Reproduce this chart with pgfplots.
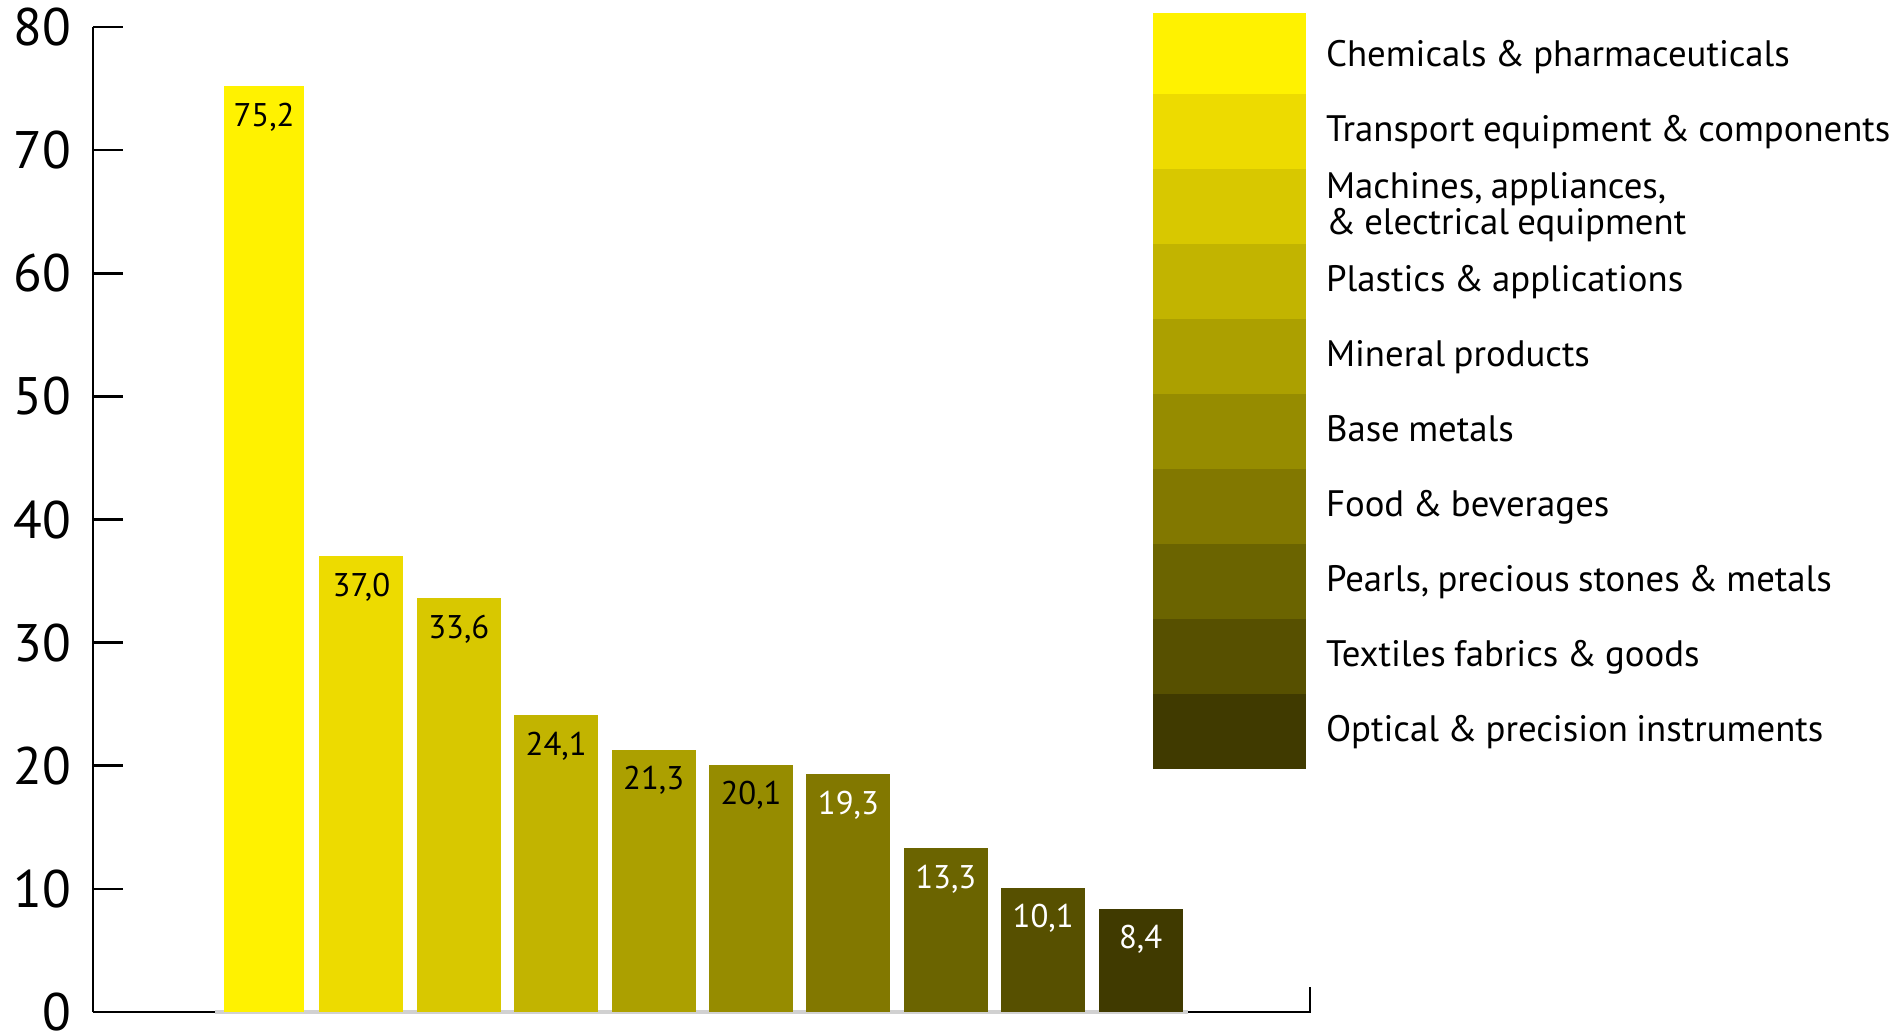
\documentclass[border=0pt]{standalone}
\usepackage{pgfplots}
\pgfplotsset{compat=1.18}
\usepackage{fontspec}
\setmainfont{PT Sans}[WordSpace=0.85]
\definecolor{c1}{HTML}{FFF200}
\definecolor{c2}{HTML}{EDDB00}
\definecolor{c3}{HTML}{D8C800}
\definecolor{c4}{HTML}{C2B400}
\definecolor{c5}{HTML}{ACA000}
\definecolor{c6}{HTML}{968C00}
\definecolor{c7}{HTML}{827800}
\definecolor{c8}{HTML}{6B6400}
\definecolor{c9}{HTML}{575000}
\definecolor{c10}{HTML}{403A00}
\pgfplotsset{
  tallimg/.style={legend image code/.code={\fill[##1] (0pt,-9.375pt) rectangle (38.25pt,10.875pt);}},
  normimg/.style={legend image code/.code={\fill[##1] (0pt,-9.375pt) rectangle (38.25pt,9.375pt);}},
}
\begin{document}
\begin{tikzpicture}
\useasboundingbox (0,0) rectangle (474.25pt,258pt);
\begin{axis}[
  at={(23.25pt,5pt)}, anchor=south west,
  scale only axis, width=304.25pt, height=246.25pt,
  xmin=-1.756, xmax=10.739, ymin=0, ymax=80,
  axis y line*=left, axis x line=none,
  ytick={0,10,...,80}, tick align=inside, major tick length=7.5pt,
  axis line style={line width=0.65pt, black},
  every tick/.style={line width=0.65pt, black},
  yticklabel style={font=\fontsize{13.2}{15}\selectfont, inner sep=0pt, xshift=-5.25pt},
  /pgf/number format/assume math mode=true,
  ybar, bar shift=0pt, bar width=0.862,
  nodes near coords={\pgfmathprintnumber[fixed,fixed zerofill,precision=1,use comma]{\pgfplotspointmeta}},
  nodes near coords align={below},
  every node near coord/.append style={font=\fontsize{8.2}{9}\selectfont, inner sep=0pt, yshift=-4pt},
  clip=false,
  legend cell align=left,
  legend style={at={(0.8710,1.01421)}, anchor=north west, draw=none, fill=none,
    inner sep=0pt, outer sep=0pt, row sep=0pt,
    nodes={inner sep=0pt, outer sep=0pt},
    cells={align=left},
    font=\fontsize{9.2}{9}\selectfont,
    /tikz/every odd column/.append style={column sep=5pt}},
  normimg,
]
\draw[black!18, line width=1pt] (axis cs:-0.503,0) -- (axis cs:9.487,0);
\addplot[fill=c1, draw=none, bar width=0.82, every node near coord/.append style={black}, tallimg]
  coordinates {(0,75.2)};
\addlegendentry{Chemicals \& pharmaceuticals}
\addplot[fill=c2, draw=none, every node near coord/.append style={black}] coordinates {(1,37.0)};
\addlegendentry{Transport equipment \& components}
\addplot[fill=c3, draw=none, every node near coord/.append style={black}] coordinates {(2,33.6)};
\addlegendentry{Machines, appliances,\\\& electrical equipment}
\addplot[fill=c4, draw=none, every node near coord/.append style={black}] coordinates {(3,24.1)};
\addlegendentry{Plastics \& applications}
\addplot[fill=c5, draw=none, every node near coord/.append style={black}] coordinates {(4,21.3)};
\addlegendentry{Mineral products}
\addplot[fill=c6, draw=none, every node near coord/.append style={black}] coordinates {(5,20.1)};
\addlegendentry{Base metals}
\addplot[fill=c7, draw=none, every node near coord/.append style={white}] coordinates {(6,19.3)};
\addlegendentry{Food \& beverages}
\addplot[fill=c8, draw=none, every node near coord/.append style={white}] coordinates {(7,13.3)};
\addlegendentry{Pearls, precious stones \& metals}
\addplot[fill=c9, draw=none, every node near coord/.append style={white}] coordinates {(8,10.1)};
\addlegendentry{Textiles fabrics \& goods}
\addplot[fill=c10, draw=none, every node near coord/.append style={white}] coordinates {(9,8.4)};
\addlegendentry{Optical \& precision instruments}
\draw[black, line width=0.65pt] (axis cs:-1.756,0) -- (axis cs:-0.503,0);
\draw[black, line width=0.65pt] (axis cs:9.487,0) -- (axis cs:10.739,0) -- (axis cs:10.739,2.03);
\end{axis}
\end{tikzpicture}
\end{document}
